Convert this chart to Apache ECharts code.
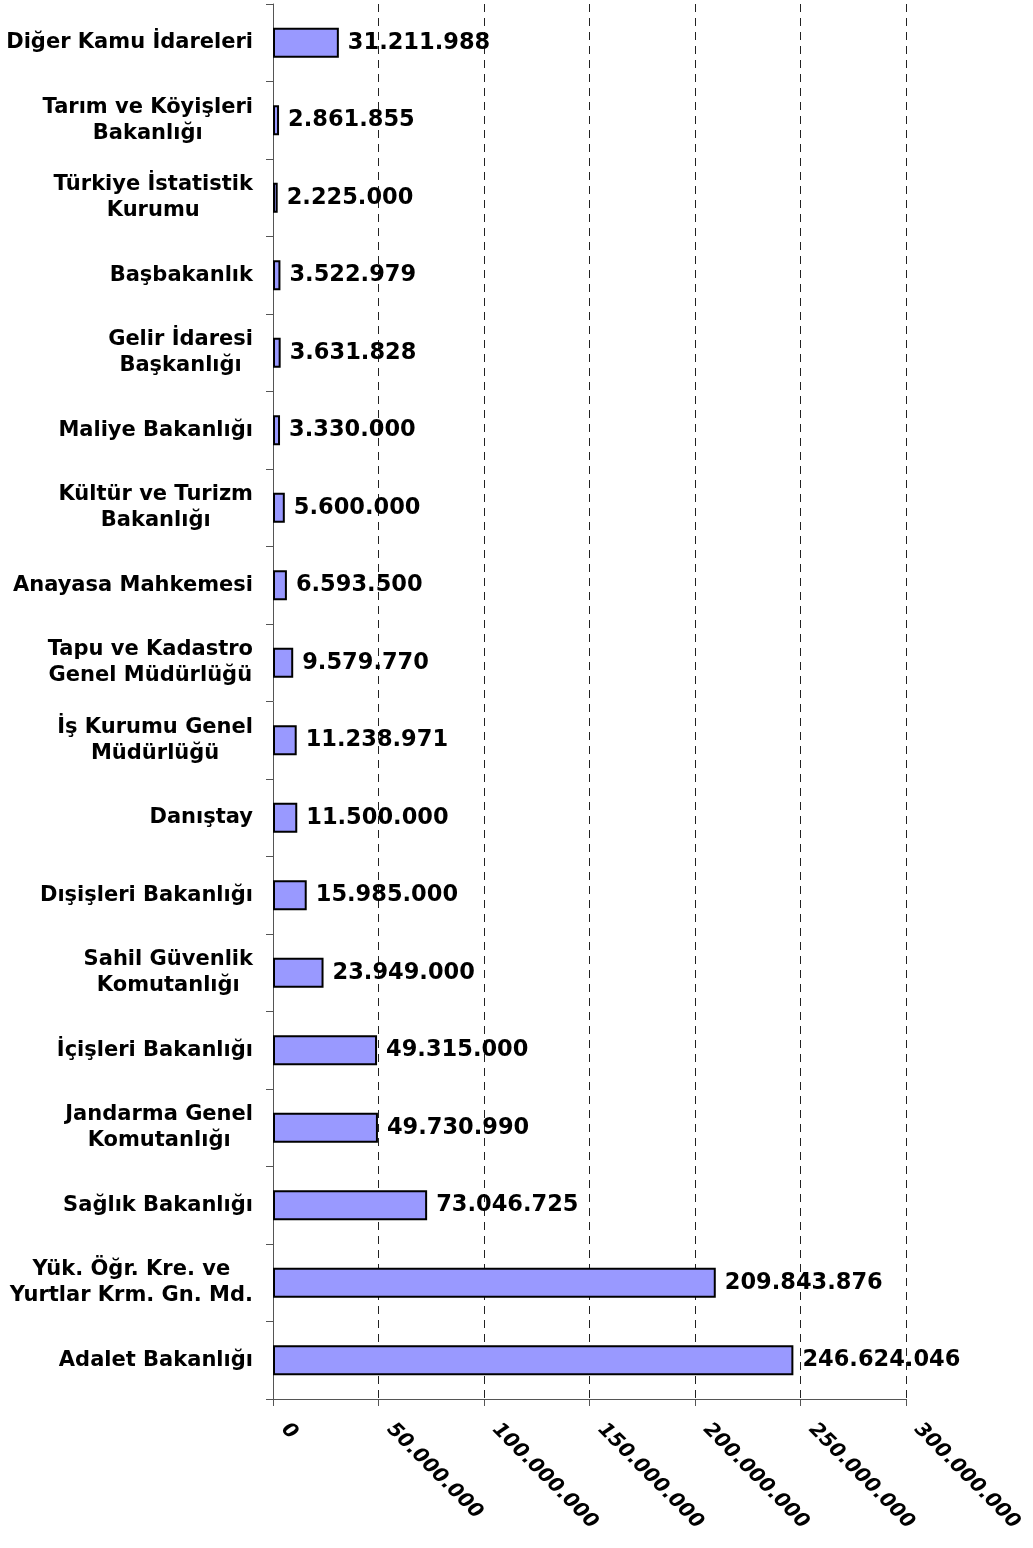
<!DOCTYPE html>
<html><head><meta charset="utf-8">
<script src="https://cdn.jsdelivr.net/npm/echarts@6/dist/echarts.min.js"></script>
<style>html,body{margin:0;padding:0;background:#fff}#c{width:1033px;height:1548px}</style>
</head><body><div id="c"></div>
<script>
const categories = [
  "Adalet Bakanlığı",
  "Yük. Öğr. Kre. ve\nYurtlar Krm. Gn. Md.",
  "Sağlık Bakanlığı",
  "Jandarma Genel\nKomutanlığı",
  "İçişleri Bakanlığı",
  "Sahil Güvenlik\nKomutanlığı",
  "Dışişleri Bakanlığı",
  "Danıştay",
  "İş Kurumu Genel\nMüdürlüğü",
  "Tapu ve Kadastro\nGenel Müdürlüğü",
  "Anayasa Mahkemesi",
  "Kültür ve Turizm\nBakanlığı",
  "Maliye Bakanlığı",
  "Gelir İdaresi\nBaşkanlığı",
  "Başbakanlık",
  "Türkiye İstatistik\nKurumu",
  "Tarım ve Köyişleri\nBakanlığı",
  "Diğer Kamu İdareleri"
];
const values = [246624046, 209843876, 73046725, 49730990, 49315000, 23949000, 15985000, 11500000, 11238971, 9579770, 6593500, 5600000, 3330000, 3631828, 3522979, 2225000, 2861855, 31211988];
const axisMin = 0, axisMax = 300000000, axisStep = 50000000;

function fmt(n){ return String(n).replace(/\B(?=(\d{3})+(?!\d))/g, '.'); }

const chart = echarts.init(document.getElementById('c'));
const FONT = '"DejaVu Sans", Verdana, sans-serif';
const catStyle = {fontFamily: FONT, fontSize: 21, fontWeight: 'bold', color: '#000', lineHeight: 26, align: 'center'};
chart.setOption({
  animation: false,
  grid: {left: 273, right: 127, top: 4, bottom: 149, containLabel: false},
  xAxis: {
    type: 'value', min: axisMin, max: axisMax, interval: axisStep,
    axisLine: {show: true, lineStyle: {color: '#555', width: 1}},
    axisTick: {show: true, length: 7, lineStyle: {color: '#555'}},
    splitLine: {show: true, lineStyle: {color: '#222', type: [8, 6], width: 1}},
    axisLabel: {
      rotate: -45, margin: 16, color: '#000', fontFamily: FONT,
      fontSize: 20, fontWeight: 'bold', fontStyle: 'italic',
      padding: [0, 0, 0, 16],
      formatter: v => fmt(v)
    }
  },
  yAxis: {
    type: 'category', data: categories,
    axisLine: {show: true, lineStyle: {color: '#555', width: 1}},
    axisTick: {show: true, length: 7, lineStyle: {color: '#555'}},
    axisLabel: {
      margin: 20, color: '#000', fontFamily: FONT, fontSize: 21,
      fontWeight: 'bold', lineHeight: 26, align: 'right',
      formatter: v => v.split('\n').map(s => '{c|' + s + '}').join('\n'),
      rich: {c: catStyle}
    }
  },
  series: [{
    type: 'bar', data: values, barWidth: 30,
    itemStyle: {color: '#9999FF', borderColor: '#000', borderWidth: 2},
    label: {
      show: true, position: 'right', distance: 9, color: '#000',
      fontFamily: FONT, fontSize: 22.5, fontWeight: 'bold',
      formatter: p => fmt(p.value)
    }
  }]
});
</script></body></html>
